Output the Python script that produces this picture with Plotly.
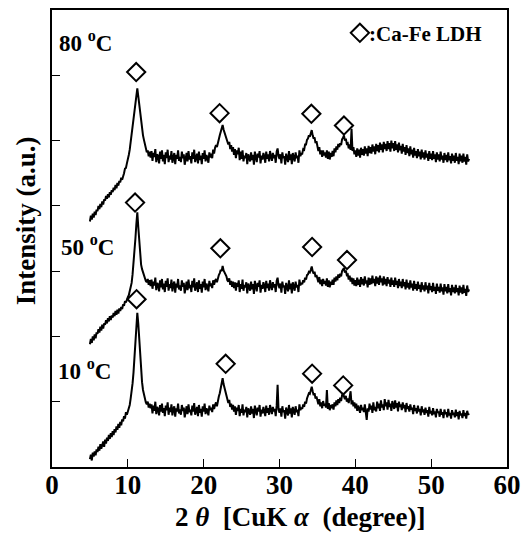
import numpy as np
import plotly.graph_objects as go

# 2-theta grid (degrees), 5.000 .. 55.000 in 0.125 steps
two_theta = np.round(np.arange(5.0, 55.0001, 0.125), 3)

# Intensity (a.u., offset stacks); one row = 1 degree
i_10C = [
    0.12, 0.19, 0.10, 0.22, 0.16, 0.24, 0.18, 0.27,
    0.23, 0.31, 0.25, 0.35, 0.28, 0.33, 0.39, 0.31,
    0.42, 0.36, 0.45, 0.40, 0.49, 0.43, 0.52, 0.46,
    0.55, 0.49, 0.58, 0.53, 0.62, 0.57, 0.66, 0.60,
    0.69, 0.64, 0.73, 0.70, 0.78, 0.74, 0.84, 0.80,
    0.85, 0.91, 0.95, 1.05, 1.15, 1.28, 1.45, 1.66,
    1.90, 2.15, 2.36, 2.20, 1.95, 1.70, 1.48, 1.30,
    1.18, 1.10, 1.04, 0.99, 0.96, 1.00, 0.91, 0.97,
    0.90, 0.96, 0.82, 0.94, 0.86, 1.00, 0.81, 0.92,
    0.88, 0.79, 0.95, 0.85, 0.97, 0.83, 0.90, 0.78,
    0.94, 0.87, 0.99, 0.80, 0.91, 0.84, 0.96, 0.79,
    0.89, 0.93, 0.77, 0.90, 0.85, 0.97, 0.82, 0.88,
    0.80, 0.95, 0.86, 0.91, 0.76, 0.89, 0.93, 0.81,
    0.96, 0.84, 0.88, 0.79, 0.94, 0.85, 0.98, 0.80,
    0.87, 0.92, 0.78, 0.95, 0.83, 0.89, 0.77, 0.93,
    0.85, 0.97, 0.81, 0.90, 0.86, 0.79, 0.94, 0.87,
    0.91, 0.84, 0.96, 0.89, 0.95, 0.99, 0.93, 1.04,
    1.08, 1.13, 1.22, 1.28, 1.36, 1.27, 1.21, 1.12,
    1.08, 1.02, 0.98, 1.03, 0.92, 0.97, 0.88, 0.95,
    0.85, 0.93, 0.80, 0.91, 0.86, 0.95, 0.78, 0.89,
    0.83, 0.96, 0.79, 0.88, 0.84, 0.92, 0.76, 0.90,
    0.86, 0.80, 0.93, 0.82, 0.89, 0.75, 0.94, 0.84,
    0.79, 0.91, 0.85, 0.95, 0.77, 0.88, 0.82, 0.92,
    0.87, 0.78, 0.94, 0.83, 0.90, 0.80, 0.95, 0.86,
    0.81, 0.92, 0.85, 0.89, 0.78, 0.94, 1.26, 0.88,
    0.83, 0.90, 0.77, 0.93, 0.84, 0.87, 0.74, 0.91,
    0.86, 0.79, 0.95, 0.82, 0.90, 0.76, 0.92, 0.85,
    0.80, 0.93, 0.84, 0.88, 0.78, 0.96, 0.87, 0.91,
    0.89, 0.96, 0.92, 1.00, 0.97, 1.05, 1.08, 1.13,
    1.12, 1.18, 1.23, 1.16, 1.10, 1.13, 1.05, 1.08,
    1.02, 0.96, 1.04, 0.93, 0.99, 0.90, 1.01, 0.94,
    0.97, 0.91, 1.18, 0.89, 0.98, 0.87, 0.95, 0.90,
    0.96, 0.88, 0.99, 0.93, 1.02, 0.95, 1.04, 0.98,
    1.06, 1.01, 1.10, 1.13, 1.08, 1.04, 1.09, 1.00,
    1.05, 0.98, 1.07, 1.16, 0.96, 1.02, 0.93, 0.99,
    0.90, 0.97, 0.86, 0.94, 0.89, 0.83, 0.95, 0.87,
    0.91, 0.84, 0.96, 0.80, 0.72, 0.90, 0.85, 0.97,
    0.88, 0.94, 0.83, 0.99, 0.87, 0.92, 0.85, 1.00,
    0.90, 0.97, 0.86, 1.02, 0.91, 0.96, 0.87, 1.04,
    0.93, 0.99, 0.88, 1.03, 0.92, 0.97, 0.86, 1.01,
    0.94, 0.89, 1.02, 0.91, 0.98, 0.85, 1.00, 0.92,
    0.96, 0.87, 0.99, 0.90, 0.95, 0.84, 0.98, 0.89,
    0.93, 0.85, 0.96, 0.88, 0.91, 0.81, 0.95, 0.86,
    0.90, 0.82, 0.94, 0.85, 0.89, 0.79, 0.93, 0.84,
    0.88, 0.80, 0.91, 0.83, 0.87, 0.77, 0.92, 0.82,
    0.86, 0.79, 0.90, 0.81, 0.85, 0.76, 0.89, 0.83,
    0.85, 0.77, 0.89, 0.80, 0.84, 0.75, 0.88, 0.81,
    0.84, 0.76, 0.89, 0.79, 0.83, 0.74, 0.87, 0.80,
    0.83, 0.76, 0.88, 0.78, 0.84, 0.73, 0.86, 0.79,
    0.82, 0.75, 0.87, 0.78, 0.83, 0.74, 0.86, 0.80,
    0.82,
]

i_50C = [
    1.88, 1.96, 1.90, 2.00, 1.94, 2.03, 1.97, 2.06,
    2.04, 2.11, 2.06, 2.15, 2.09, 2.18, 2.12, 2.20,
    2.18, 2.25, 2.20, 2.28, 2.23, 2.31, 2.25, 2.32,
    2.29, 2.36, 2.31, 2.39, 2.33, 2.41, 2.35, 2.43,
    2.39, 2.45, 2.42, 2.49, 2.47, 2.54, 2.52, 2.58,
    2.60, 2.63, 2.68, 2.74, 2.82, 2.95, 3.10, 3.30,
    3.50, 3.72, 3.90, 3.68, 3.45, 3.28, 3.10, 3.03,
    2.98, 2.92, 2.88, 2.85, 2.83, 2.88, 2.79, 2.86,
    2.77, 2.87, 2.73, 2.84, 2.78, 2.90, 2.71, 2.82,
    2.79, 2.69, 2.86, 2.75, 2.88, 2.72, 2.81, 2.68,
    2.85, 2.76, 2.89, 2.70, 2.80, 2.74, 2.87, 2.69,
    2.79, 2.84, 2.67, 2.81, 2.75, 2.88, 2.72, 2.78,
    2.70, 2.86, 2.76, 2.82, 2.66, 2.80, 2.84, 2.71,
    2.87, 2.74, 2.79, 2.68, 2.85, 2.75, 2.89, 2.70,
    2.77, 2.83, 2.68, 2.86, 2.73, 2.80, 2.67, 2.84,
    2.75, 2.88, 2.71, 2.81, 2.76, 2.69, 2.85, 2.77,
    2.81, 2.74, 2.86, 2.79, 2.85, 2.88, 2.83, 2.92,
    2.94, 2.97, 3.02, 3.00, 3.08, 3.01, 2.98, 2.93,
    2.92, 2.86, 2.84, 2.89, 2.79, 2.85, 2.76, 2.84,
    2.74, 2.83, 2.70, 2.82, 2.76, 2.86, 2.68, 2.80,
    2.73, 2.87, 2.70, 2.79, 2.75, 2.83, 2.66, 2.81,
    2.77, 2.70, 2.84, 2.72, 2.80, 2.65, 2.85, 2.74,
    2.69, 2.82, 2.76, 2.86, 2.67, 2.79, 2.73, 2.83,
    2.78, 2.68, 2.85, 2.74, 2.81, 2.70, 2.86, 2.77,
    2.71, 2.83, 2.75, 2.80, 2.68, 2.85, 2.90, 2.78,
    2.74, 2.81, 2.67, 2.84, 2.75, 2.78, 2.65, 2.82,
    2.77, 2.69, 2.86, 2.72, 2.81, 2.66, 2.83, 2.76,
    2.70, 2.84, 2.75, 2.79, 2.68, 2.87, 2.78, 2.82,
    2.80, 2.86, 2.83, 2.90, 2.87, 2.94, 2.95, 2.99,
    2.98, 3.02, 3.07, 3.00, 2.96, 2.99, 2.91, 2.94,
    2.89, 2.83, 2.91, 2.80, 2.87, 2.77, 2.88, 2.81,
    2.85, 2.78, 2.89, 2.76, 2.86, 2.75, 2.84, 2.79,
    2.87, 2.79, 2.90, 2.84, 2.92, 2.86, 2.95, 2.90,
    2.96, 2.92, 3.00, 3.02, 3.05, 2.98, 3.01, 2.94,
    2.95, 2.87, 2.93, 2.84, 2.90, 2.80, 2.89, 2.78,
    2.86, 2.77, 2.90, 2.79, 2.87, 2.76, 2.91, 2.80,
    2.88, 2.78, 2.92, 2.81, 2.86, 2.75, 2.90, 2.79,
    2.89, 2.80, 2.93, 2.82, 2.88, 2.77, 2.92, 2.81,
    2.90, 2.79, 2.93, 2.83, 2.89, 2.78, 2.92, 2.80,
    2.88, 2.77, 2.91, 2.81, 2.87, 2.76, 2.90, 2.79,
    2.86, 2.76, 2.90, 2.79, 2.85, 2.74, 2.88, 2.77,
    2.84, 2.74, 2.88, 2.77, 2.83, 2.72, 2.87, 2.75,
    2.82, 2.72, 2.86, 2.75, 2.81, 2.70, 2.85, 2.73,
    2.80, 2.70, 2.84, 2.73, 2.79, 2.68, 2.83, 2.72,
    2.78, 2.69, 2.83, 2.72, 2.78, 2.66, 2.82, 2.71,
    2.77, 2.68, 2.82, 2.70, 2.76, 2.65, 2.81, 2.70,
    2.76, 2.67, 2.81, 2.69, 2.75, 2.64, 2.80, 2.69,
    2.76, 2.66, 2.80, 2.68, 2.74, 2.63, 2.79, 2.68,
    2.75, 2.66, 2.79, 2.68, 2.74, 2.63, 2.78, 2.67,
    2.75, 2.65, 2.79, 2.67, 2.73, 2.62, 2.78, 2.68,
    2.72,
]

i_80C = [
    3.76, 3.85, 3.79, 3.88, 3.82, 3.91, 3.86, 3.94,
    3.92, 4.00, 3.95, 4.03, 3.98, 4.07, 4.02, 4.10,
    4.08, 4.15, 4.11, 4.18, 4.13, 4.21, 4.17, 4.24,
    4.21, 4.28, 4.24, 4.32, 4.27, 4.35, 4.31, 4.38,
    4.36, 4.43, 4.40, 4.48, 4.50, 4.57, 4.58, 4.65,
    4.70, 4.78, 4.86, 4.97, 5.08, 5.18, 5.30, 5.40,
    5.52, 5.66, 5.80, 5.68, 5.55, 5.42, 5.30, 5.18,
    5.08, 5.01, 4.95, 4.88, 4.82, 4.85, 4.76, 4.83,
    4.74, 4.84, 4.69, 4.81, 4.75, 4.87, 4.67, 4.79,
    4.76, 4.65, 4.83, 4.72, 4.85, 4.68, 4.78, 4.64,
    4.82, 4.73, 4.86, 4.67, 4.77, 4.71, 4.84, 4.66,
    4.76, 4.81, 4.64, 4.78, 4.72, 4.85, 4.69, 4.75,
    4.67, 4.83, 4.73, 4.79, 4.63, 4.77, 4.81, 4.68,
    4.84, 4.71, 4.76, 4.65, 4.82, 4.72, 4.86, 4.67,
    4.74, 4.80, 4.65, 4.83, 4.70, 4.77, 4.64, 4.81,
    4.72, 4.85, 4.68, 4.78, 4.73, 4.66, 4.82, 4.74,
    4.80, 4.73, 4.86, 4.80, 4.89, 4.93, 4.90, 4.99,
    5.02, 5.08, 5.14, 5.16, 5.24, 5.17, 5.12, 5.06,
    5.04, 4.97, 4.94, 4.98, 4.87, 4.93, 4.83, 4.90,
    4.78, 4.87, 4.73, 4.85, 4.79, 4.89, 4.70, 4.83,
    4.72, 4.85, 4.68, 4.77, 4.73, 4.81, 4.64, 4.79,
    4.75, 4.68, 4.82, 4.70, 4.78, 4.63, 4.83, 4.72,
    4.67, 4.80, 4.74, 4.84, 4.65, 4.77, 4.71, 4.81,
    4.76, 4.66, 4.83, 4.72, 4.79, 4.68, 4.84, 4.75,
    4.69, 4.81, 4.73, 4.78, 4.66, 4.83, 4.88, 4.76,
    4.72, 4.79, 4.65, 4.82, 4.73, 4.76, 4.63, 4.80,
    4.75, 4.67, 4.84, 4.70, 4.79, 4.64, 4.81, 4.74,
    4.68, 4.82, 4.73, 4.77, 4.66, 4.85, 4.76, 4.80,
    4.80, 4.87, 4.86, 4.94, 4.94, 5.01, 5.03, 5.08,
    5.06, 5.11, 5.16, 5.08, 5.03, 5.05, 4.96, 4.99,
    4.91, 4.84, 4.90, 4.79, 4.85, 4.75, 4.85, 4.77,
    4.82, 4.74, 4.85, 4.72, 4.83, 4.71, 4.81, 4.75,
    4.84, 4.76, 4.88, 4.82, 4.91, 4.86, 4.95, 4.90,
    4.96, 4.93, 5.02, 5.04, 5.08, 5.00, 5.03, 4.95,
    4.96, 4.88, 4.94, 4.86, 5.18, 4.84, 4.90, 4.79,
    4.85, 4.75, 4.88, 4.77, 4.86, 4.74, 4.89, 4.78,
    4.87, 4.77, 4.91, 4.80, 4.88, 4.76, 4.92, 4.81,
    4.90, 4.80, 4.94, 4.83, 4.91, 4.79, 4.95, 4.84,
    4.93, 4.82, 4.97, 4.86, 4.94, 4.82, 4.98, 4.87,
    4.95, 4.84, 4.99, 4.87, 4.96, 4.83, 5.00, 4.88,
    4.96, 4.84, 4.99, 4.86, 4.94, 4.82, 4.97, 4.85,
    4.92, 4.80, 4.95, 4.83, 4.90, 4.78, 4.93, 4.81,
    4.88, 4.76, 4.91, 4.79, 4.86, 4.74, 4.89, 4.77,
    4.84, 4.73, 4.87, 4.76, 4.83, 4.71, 4.86, 4.74,
    4.82, 4.71, 4.85, 4.74, 4.80, 4.69, 4.84, 4.72,
    4.80, 4.70, 4.84, 4.72, 4.79, 4.67, 4.82, 4.71,
    4.79, 4.68, 4.83, 4.71, 4.77, 4.66, 4.81, 4.70,
    4.78, 4.67, 4.82, 4.70, 4.76, 4.65, 4.80, 4.69,
    4.77, 4.66, 4.81, 4.69, 4.75, 4.64, 4.80, 4.68,
    4.77, 4.66, 4.80, 4.68, 4.75, 4.63, 4.79, 4.68,
    4.72,
]

assert len(i_10C) == len(i_50C) == len(i_80C) == len(two_theta)

# Ca-Fe LDH peak markers (open diamonds)
ldh_x_80 = [11.1, 22.1, 34.2, 38.5]
ldh_y_80 = [6.05, 5.42, 5.41, 5.23]
ldh_x_50 = [10.95, 22.2, 34.3, 38.9]
ldh_y_50 = [4.05, 3.35, 3.37, 3.17]
ldh_x_10 = [11.15, 22.9, 34.3, 38.4]
ldh_y_10 = [2.57, 1.58, 1.43, 1.25]

temp_labels = ["80 <sup>o</sup>C", "50 <sup>o</sup>C", "10 <sup>o</sup>C"]
x_ticks = [0, 10, 20, 30, 40, 50, 60]
y_ticks = [1, 2, 3, 4, 5, 6]

FONT = "Liberation Serif, Times New Roman, serif"

fig = go.Figure()
for y in (i_10C, i_50C, i_80C):
    fig.add_trace(go.Scatter(x=two_theta, y=y, mode="lines",
                             line=dict(color="black", width=2.0),
                             showlegend=False, hoverinfo="skip"))

for xs, ys in ((ldh_x_80, ldh_y_80), (ldh_x_50, ldh_y_50), (ldh_x_10, ldh_y_10)):
    fig.add_trace(go.Scatter(x=xs, y=ys, mode="markers",
                             marker=dict(symbol="diamond-open", size=14,
                                         color="black", line=dict(width=2, color="black")),
                             showlegend=False, hoverinfo="skip"))

# legend key marker
fig.add_trace(go.Scatter(x=[40.6], y=[6.65], mode="markers",
                         marker=dict(symbol="diamond-open", size=14, color="black",
                                     line=dict(width=2, color="black")),
                         showlegend=False, hoverinfo="skip"))

fig.add_annotation(x=41.55, y=6.63, xref="x", yref="y", text="<b>:Ca-Fe LDH</b>",
                   showarrow=False, xanchor="left", yanchor="middle",
                   font=dict(family=FONT, size=21, color="black"))

label_pos = [(0.7, 6.52), (0.95, 3.40), (0.55, 1.50)]
for (lx, ly), t in zip(label_pos, temp_labels):
    fig.add_annotation(x=lx, y=ly, xref="x", yref="y", text="<b>" + t + "</b>",
                       showarrow=False, xanchor="left", yanchor="middle",
                       font=dict(family=FONT, size=23, color="black"))

# axis titles
fig.add_annotation(x=-0.057, y=0.538, xref="paper", yref="paper",
                   text="<b>Intensity (a.u.)</b>", textangle=-90,
                   showarrow=False, xanchor="center", yanchor="middle",
                   font=dict(family=FONT, size=27, color="black"))
fig.add_annotation(x=0.545, y=-0.110, xref="paper", yref="paper",
                   text="<b>2&nbsp;<i>θ</i>&nbsp;&nbsp;[CuK&nbsp;<i>α</i>&nbsp;&nbsp;(degree)]</b>",
                   showarrow=False, xanchor="center", yanchor="middle",
                   font=dict(family=FONT, size=27, color="black"))

fig.update_layout(
    width=526, height=535,
    margin=dict(l=52, r=19, t=10, b=68, autoexpand=False),
    paper_bgcolor="white", plot_bgcolor="white",
    xaxis=dict(range=[0, 60], tickvals=x_ticks, ticks="inside", ticklen=8,
               tickwidth=1.2, tickcolor="black", automargin=False,
               ticklabelstandoff=-7,
               showline=True, linecolor="black", linewidth=1.5, mirror=True,
               showgrid=False, zeroline=False,
               tickfont=dict(family=FONT, size=27, color="black", weight="bold")),
    yaxis=dict(range=[0, 7], tickvals=y_ticks, ticks="inside", ticklen=8,
               tickwidth=1.2, tickcolor="black", showticklabels=False, automargin=False,
               showline=True, linecolor="black", linewidth=1.5, mirror=True,
               showgrid=False, zeroline=False),
)

fig.write_html("out.html", config={"displayModeBar": False},
               post_script="document.body.style.margin='0';document.body.style.overflow='hidden';")
